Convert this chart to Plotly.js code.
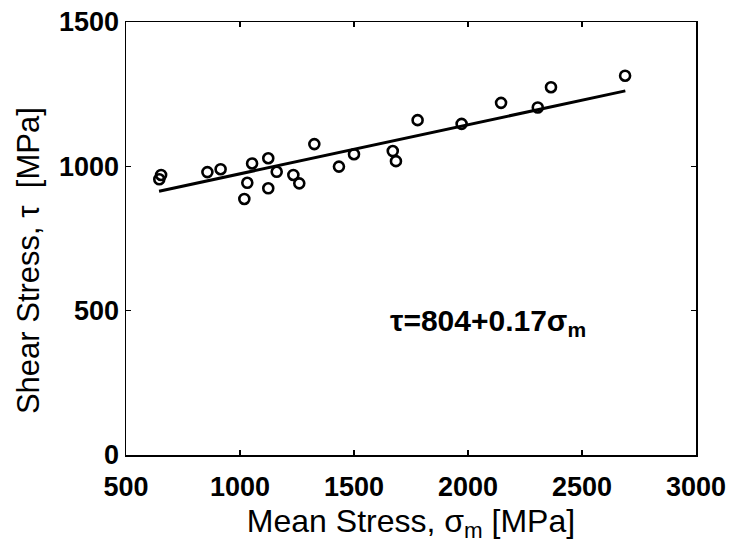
<!DOCTYPE html>
<html>
<head>
<meta charset="utf-8">
<script src="https://cdn.plot.ly/plotly-3.0.1.min.js"></script>
<style>
html,body{margin:0;padding:0;background:#fff;}
#chart{width:731px;height:552px;}
</style>
</head>
<body>
<div id="chart"></div>
<script>
// Measured data: mean stress (MPa) vs shear stress (MPa)
const meanStress = [646, 654, 857, 915, 1053, 1032, 1019, 1124, 1124, 1161, 1234, 1260, 1326, 1434, 1500, 1670, 1684, 1779, 1972, 2145, 2306, 2364, 2689];
const shearStress = [955, 970, 980, 990, 1010, 943, 887, 1028, 924, 981, 970, 941, 1077, 999, 1042, 1053, 1018, 1160, 1147, 1220, 1204, 1274, 1314];

// Fit: tau = 804 + 0.17 * sigma_m
const fitIntercept = 804;
const fitSlope = 0.17;
const fitRange = [645, 2690];
const fitY = fitRange.map(x => fitIntercept + fitSlope * x);

const xTicks = [500, 1000, 1500, 2000, 2500, 3000];
const yTicks = [0, 500, 1000, 1500];

const FONT = 'Liberation Sans, Arial, Helvetica, sans-serif';

const traces = [
  {
    x: fitRange, y: fitY, type: 'scatter', mode: 'lines',
    line: {color: '#000', width: 3}, hoverinfo: 'skip', showlegend: false
  },
  {
    x: meanStress, y: shearStress, type: 'scatter', mode: 'markers',
    marker: {symbol: 'circle-open', size: 10, color: '#000', line: {color: '#000', width: 2.6}},
    showlegend: false
  }
];

const axisCommon = {
  showgrid: false, zeroline: false, showline: true, mirror: 'ticks',
  linecolor: '#000', linewidth: 1.5, ticks: 'inside', ticklen: 5, tickwidth: 1.2, tickcolor: '#000',
  tickfont: {family: FONT, size: 27, color: '#000', weight: 'bold'}
};

const layout = {
  width: 731, height: 552,
  margin: {l: 126, r: 35, t: 22, b: 97, pad: 0},
  paper_bgcolor: '#fff', plot_bgcolor: '#fff',
  font: {family: FONT, color: '#000'},
  xaxis: Object.assign({}, axisCommon, {
    range: [500, 3000], tickvals: xTicks, ticktext: xTicks.map(String),
    ticklabelstandoff: 7,
    title: {text: 'Mean Stress, σ<sub>m</sub> [MPa]', font: {family: FONT, size: 32, color: '#000'}, standoff: 8}
  }),
  yaxis: Object.assign({}, axisCommon, {
    range: [0, 1500], tickvals: yTicks, ticktext: yTicks.map(String),
    ticklabelstandoff: 0
  }),
  annotations: [
    {
      x: 1649, y: 460, xref: 'x', yref: 'y', xanchor: 'left', yanchor: 'middle',
      text: '<b>τ=804+0.17σ<sub>m</sub></b>', showarrow: false,
      font: {family: FONT, size: 30, color: '#000'}
    },
    {
      x: -0.172, y: 0.45, xref: 'paper', yref: 'paper', xanchor: 'center', yanchor: 'middle',
      text: 'Shear Stress, τ  [MPa]', textangle: -90, showarrow: false,
      font: {family: FONT, size: 31, color: '#000'}
    }
  ]
};

Plotly.newPlot('chart', traces, layout, {displayModeBar: false, staticPlot: true});
</script>
</body>
</html>
